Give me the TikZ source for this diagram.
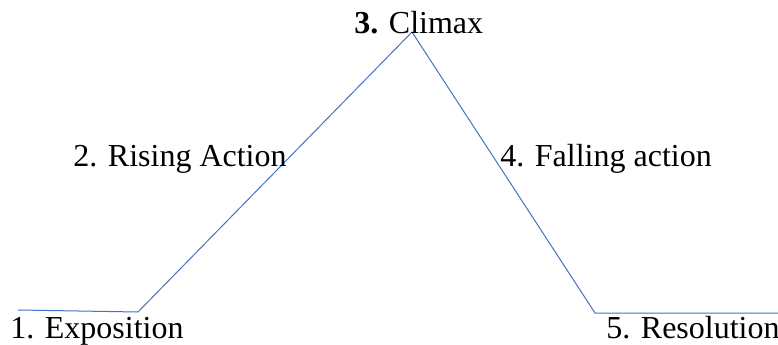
\documentclass[tikz,border=0pt]{standalone}
\usepackage{fontspec}
\setmainfont{Liberation Serif}
\newfontfamily\stagefont{Liberation Serif}
\usepackage{tikz}
\usetikzlibrary{positioning}
\definecolor{plotblue}{RGB}{68,114,196}
\tikzset{
  stage/.style={anchor=base west,inner sep=0pt,font=\stagefont\fontsize{24}{28}\selectfont},
  arc/.style={draw=plotblue,line width=0.75pt,line join=miter}
}

\begin{document}
\begin{tikzpicture}[x=0.75pt,y=-0.75pt]
  \useasboundingbox (0,0) rectangle (778,345);
  \coordinate (start) at (18,310);
  \coordinate (exposition) at (138,312);
  \coordinate (climax) at (412,32);
  \coordinate (resolution) at (595,313);
  \coordinate (finish) at (778,313);
  \draw[arc] (start) -- (exposition) -- (climax) -- (resolution) -- (finish);
  \node[stage] (expolabel) at (10,339) {1. Exposition};
  \node[stage] (risinglabel) at (73,167) {2. Rising Action};
  \node[stage] (climaxlabel) at (354,34) {\textbf{3.} Climax};
  \node[stage] (fallinglabel) at (500,167) {4. Falling action};
  \node[stage] (resolabel) at (606,339) {5. Resolution};
\end{tikzpicture}
\end{document}
